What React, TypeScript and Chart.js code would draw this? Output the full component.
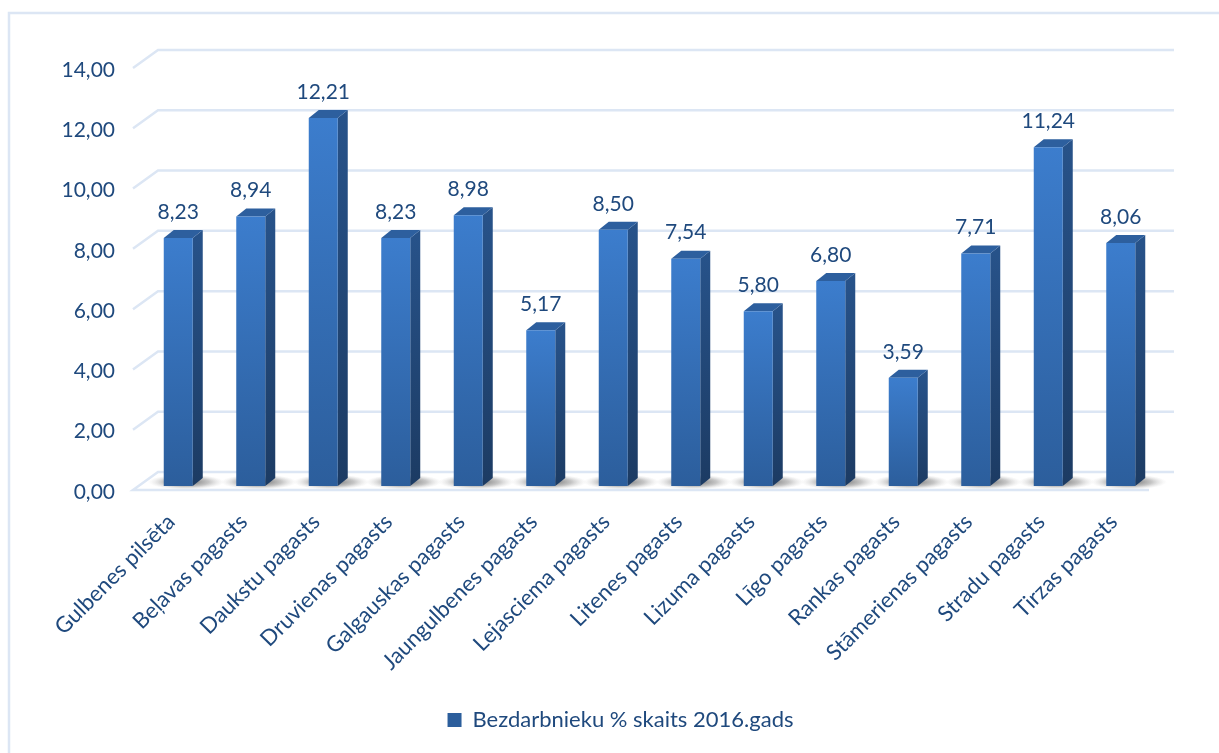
import React, { useEffect, useRef } from "react";
import { Chart, registerables } from "chart.js";

Chart.register(...registerables);

const categories = [
  "Gulbenes pilsēta", "Beļavas pagasts", "Daukstu pagasts", "Druvienas pagasts", "Galgauskas pagasts",
  "Jaungulbenes pagasts", "Lejasciema pagasts", "Litenes pagasts", "Lizuma pagasts", "Līgo pagasts",
  "Rankas pagasts", "Stāmerienas pagasts", "Stradu pagasts", "Tirzas pagasts",
];
const values = [8.23, 8.94, 12.21, 8.23, 8.98, 5.17, 8.5, 7.54, 5.8, 6.8, 3.59, 7.71, 11.24, 8.06];
const seriesName = "Bezdarbnieku % skaits 2016.gads";

const FONT = "Lato, Carlito, sans-serif";
const TEXT = "#1f497d";
const GRID = "#dce6f4";
const DX = 10, DY = 8;          // bar depth
const WX = 25, WUP = 14, WDN = 4; // wall offset
const comma = (v: number) => v.toFixed(2).replace(".", ",");

const scene = {
  id: "scene",
  beforeDatasetsDraw(c: any) {
    const g = c.ctx, y = c.scales.y, a = c.chartArea;
    g.save();
    g.strokeStyle = GRID; g.lineWidth = 2.5;
    g.beginPath(); g.moveTo(1219, 13); g.lineTo(9, 13); g.lineTo(9, 753); g.stroke();
    const fx = a.left - 9, bx = fx + WX, rx = a.right + 17;
    y.ticks.forEach((t: any) => {
      const p = y.getPixelForValue(t.value);
      g.beginPath();
      if (t.value === 0) {
        g.moveTo(rx - WX, p + WDN); g.lineTo(fx, p + WDN); g.lineTo(bx, p - WUP); g.lineTo(rx, p - WUP);
      } else {
        g.moveTo(fx, p + WDN); g.lineTo(bx, p - WUP); g.lineTo(rx, p - WUP);
      }
      g.stroke();
    });
    const meta = c.getDatasetMeta(0);
    meta.data.forEach((b: any) => {
      const l = b.x - b.width / 2, r = b.x + b.width / 2;
      const base = b.base, top = b.y;
      g.save();
      g.translate(b.x + 8, base - 4);
      g.scale(1, 0.2);
      const rg = g.createRadialGradient(0, 0, 0, 0, 0, 38);
      rg.addColorStop(0, "rgba(60,60,60,0.8)");
      rg.addColorStop(0.6, "rgba(110,110,110,0.4)");
      rg.addColorStop(1, "rgba(190,190,190,0)");
      g.fillStyle = rg;
      g.beginPath(); g.arc(0, 0, 38, 0, Math.PI * 2); g.fill();
      g.restore();
      const sg = g.createLinearGradient(0, top, 0, base);
      sg.addColorStop(0, "#275289"); sg.addColorStop(1, "#1c3b63");
      g.fillStyle = sg;
      g.beginPath();
      g.moveTo(r, top); g.lineTo(r + DX, top - DY); g.lineTo(r + DX, base - DY); g.lineTo(r, base); g.closePath(); g.fill();
      g.fillStyle = "#2d5f9e";
      g.beginPath();
      g.moveTo(l, top); g.lineTo(l + DX, top - DY); g.lineTo(r + DX, top - DY); g.lineTo(r, top); g.closePath(); g.fill();
    });
    g.restore();
  },
  afterDatasetsDraw(c: any) {
    const g = c.ctx, meta = c.getDatasetMeta(0);
    g.save();
    g.font = `21px ${FONT}`; g.fillStyle = TEXT; g.textAlign = "center"; g.textBaseline = "middle";
    meta.data.forEach((b: any, i: number) => g.fillText(comma(values[i]), b.x, b.y - 26));
    g.restore();
  },
};

export default function App() {
  const ref = useRef<HTMLCanvasElement>(null);
  useEffect(() => {
    document.body.style.margin = "0";
    document.body.style.background = "#fff";
    const chart = new Chart(ref.current!, {
      type: "bar",
      plugins: [scene],
      data: {
        labels: categories,
        datasets: [{
          label: seriesName,
          data: values,
          categoryPercentage: 1,
          barPercentage: 0.4,
          borderWidth: 0,
          backgroundColor: (ctx: any) => {
            const c = ctx.chart, a = c.chartArea, y = c.scales?.y;
            if (!a || !y || ctx.dataIndex === undefined) {
              const lg = c.ctx.createLinearGradient(0, 712, 0, 730);
              lg.addColorStop(0, "#3b7bcb"); lg.addColorStop(1, "#2c5f9e");
              return lg;
            }
            const lg = c.ctx.createLinearGradient(0, y.getPixelForValue(values[ctx.dataIndex]), 0, a.bottom);
            lg.addColorStop(0, "#3c7dcd"); lg.addColorStop(1, "#2c5e9c");
            return lg;
          },
        }],
      },
      options: {
        responsive: false,
        animation: false,
        layout: { padding: { left: 22, right: 0, top: 64, bottom: 12 } },
        plugins: {
          tooltip: { enabled: false },
          legend: {
            position: "bottom",
            labels: { font: { family: FONT, size: 22 }, color: TEXT, boxWidth: 14, boxHeight: 14, padding: 10 },
          },
        },
        scales: {
          x: {
            grid: { display: false }, border: { display: false },
            afterFit: (s: any) => { s.height = 213; },
            ticks: {
              autoSkip: false, maxRotation: 45, minRotation: 45, padding: 15, labelOffset: -7,
              font: { family: FONT, size: 22 }, color: TEXT,
            },
          },
          y: {
            min: 0, max: 14,
            grid: { display: false, drawTicks: false }, border: { display: false },
            afterFit: (s: any) => { s.width = 120; },
            ticks: {
              stepSize: 2, padding: 27, labelOffset: 6,
              font: { family: FONT, size: 21 }, color: TEXT,
              callback: (v: any) => comma(Number(v)),
            },
          },
          pad: {
            position: "right",
            grid: { display: false }, border: { display: false },
            ticks: { display: false },
            afterFit: (s: any) => { s.width = 62; },
          },
        },
      } as any,
    });
    return () => chart.destroy();
  }, []);
  return <canvas ref={ref} width={1219} height={753} style={{ display: "block" }} />;
}
